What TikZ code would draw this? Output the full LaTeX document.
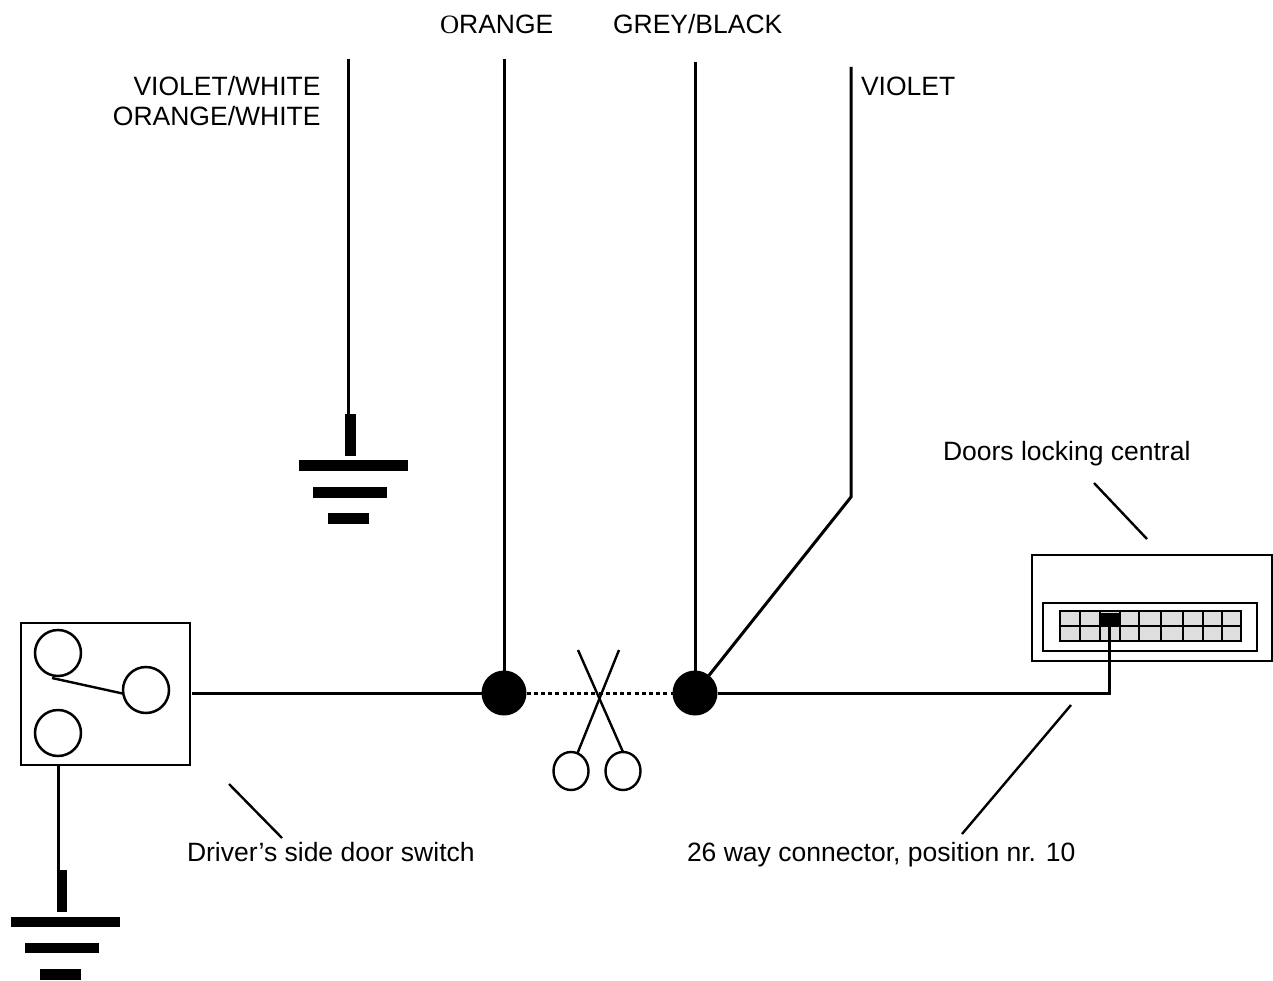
\documentclass[tikz,border=0pt]{standalone}
\usepackage{fontspec}
\setmainfont{Liberation Sans}
\newfontfamily\serifcap{Liberation Serif}
\usetikzlibrary{shapes.geometric}
\usetikzlibrary{calc}

\tikzset{
    wire/.style={line width=3pt, black},
    thinwire/.style={line width=2.4pt, black},
    label/.style={inner sep=0pt, outer sep=0pt, font=\fontsize{26.5}{30}\selectfont},
    box/.style={draw, line width=2.5pt, inner sep=0pt, outer sep=0pt},
    bar/.style={fill=black, inner sep=0pt, outer sep=0pt},
    contact/.style={circle, draw, line width=2.5pt, inner sep=0pt, minimum size=46pt},
    joint/.style={circle, fill=black, inner sep=0pt, outer sep=0pt, minimum size=45pt},
    grip/.style={ellipse, draw, line width=2.4pt, inner sep=0pt, outer sep=0pt, minimum width=35pt, minimum height=38pt},
}

\begin{document}
\begin{tikzpicture}[x=1pt, y=-1pt]
        \useasboundingbox (0,0) rectangle (1273,981);

        % wire labels
        \node[label, anchor=base west] (OrangeLabel) at (440,34) {{\serifcap O}RANGE};
        \node[label, anchor=base west] (GreyLabel) at (613,34) {GREY/BLACK};
        \node[label, anchor=base west] (VioletLabel) at (861,96) {VIOLET};
        \node[label, anchor=base east] (VioletWhiteLabel) at (320.5,96) {VIOLET/WHITE};
        \node[label, anchor=base east] (OrangeWhiteLabel) at (320.5,126) {ORANGE/WHITE};
        \node[label, anchor=base west] (CentralLabel) at (943,460) {Doors locking central};
        \node[label, anchor=base west] (SwitchLabel) at (187,861) {Driver’s side door switch};
        \node[label, anchor=base west] (ConnectorLabel) at (687,861) {26 way connector, position nr. 10};

        % door switch
        \node[box, minimum width=169pt, minimum height=142pt] (SwitchBox) at (105.5,694) {};
        \node[contact] (ContactTop) at (58,653) {};
        \node[contact] (ContactRight) at (146,690) {};
        \node[contact] (ContactBottom) at (58,733) {};
        \coordinate (ContactArm) at (52,678);
        \draw[thinwire] (ContactArm) -- (ContactRight.188);

        % ground under the switch
        \node[bar, minimum width=10pt, minimum height=42pt] (StubSwitch) at (62,891) {};
        \node[bar, minimum width=109pt, minimum height=10pt] (BarSwitchA) at (65.5,922) {};
        \node[bar, minimum width=74pt, minimum height=10pt] (BarSwitchB) at (62,948) {};
        \node[bar, minimum width=41pt, minimum height=11pt] (BarSwitchC) at (60.5,974.5) {};
        \coordinate (GroundWire) at (58,765);
        \draw[wire] (GroundWire) -- (GroundWire |- StubSwitch.north);

        % ground of the violet/white wire
        \node[bar, minimum width=11pt, minimum height=42pt] (StubWhite) at (350.5,435) {};
        \node[bar, minimum width=109pt, minimum height=11pt] (BarWhiteA) at (353.5,465.5) {};
        \node[bar, minimum width=74pt, minimum height=11pt] (BarWhiteB) at (350,492.5) {};
        \node[bar, minimum width=41pt, minimum height=11pt] (BarWhiteC) at (348.5,518.5) {};
        \coordinate (VioletWhiteTop) at (348,59);
        \draw[wire] (VioletWhiteTop) -- (VioletWhiteTop |- StubWhite.north);

        % splices and the cut
        \node[joint] (JointOrange) at (504,693) {};
        \node[joint] (JointGrey) at (695,693) {};
        \coordinate (OrangeTop) at (504,59);
        \coordinate (GreyTop) at (695,62);
        \coordinate (VioletTop) at (851,67);
        \coordinate (VioletBend) at (851,497);
        \draw[wire] (OrangeTop) -- (JointOrange);
        \draw[wire] (GreyTop) -- (JointGrey);
        \draw[wire] (VioletTop) -- (VioletBend) -- (JointGrey);
        \draw[wire] (SwitchBox.east) ++(2,-1) -- (JointOrange);
        \draw[line width=3pt, dash pattern=on 4pt off 3.2pt] (JointOrange) -- (JointGrey);

        \node[grip] (GripLeft) at (571,771) {};
        \node[grip] (GripRight) at (623,771) {};
        \coordinate (BladeLeft) at (578,650);
        \coordinate (BladeRight) at (619,650);
        \draw[thinwire] (BladeLeft) -- (GripRight.north);
        \draw[thinwire] (BladeRight) -- (GripLeft.70);

        % locking central with its connector
        \node[box, minimum width=240pt, minimum height=106pt] (CentralBox) at (1152,608) {};
        \node[box, minimum width=214pt, minimum height=48pt] (SocketBox) at (1150,627) {};
        \node[box, fill=black!13, minimum width=181pt, minimum height=30pt] (PinGrid) at (1150.5,626) {};
        \foreach \x in {1080,1100,1120,1139,1161,1183,1203,1222}
            \draw[line width=2.2pt] (\x,611) -- (\x,641);
        \draw[line width=2.2pt] (PinGrid.west) -- (PinGrid.east);
        \node[bar, minimum width=21pt, minimum height=14pt] (PinTen) at (1110.5,620) {};
        \coordinate (PinCorner) at (1109,693);
        \draw[wire] (JointGrey) -- (PinCorner) -- (PinCorner |- PinTen.south);

        % leaders to the texts
        \coordinate (CentralLeadA) at (1094,483);
        \coordinate (CentralLeadB) at (1147,539);
        \coordinate (SwitchLeadA) at (229,784);
        \coordinate (SwitchLeadB) at (282,838);
        \coordinate (ConnectorLeadA) at (1071,705);
        \coordinate (ConnectorLeadB) at (962,834);
        \draw[thinwire] (CentralLeadA) -- (CentralLeadB);
        \draw[thinwire] (SwitchLeadA) -- (SwitchLeadB);
        \draw[thinwire] (ConnectorLeadA) -- (ConnectorLeadB);
    \end{tikzpicture}
\end{document}
